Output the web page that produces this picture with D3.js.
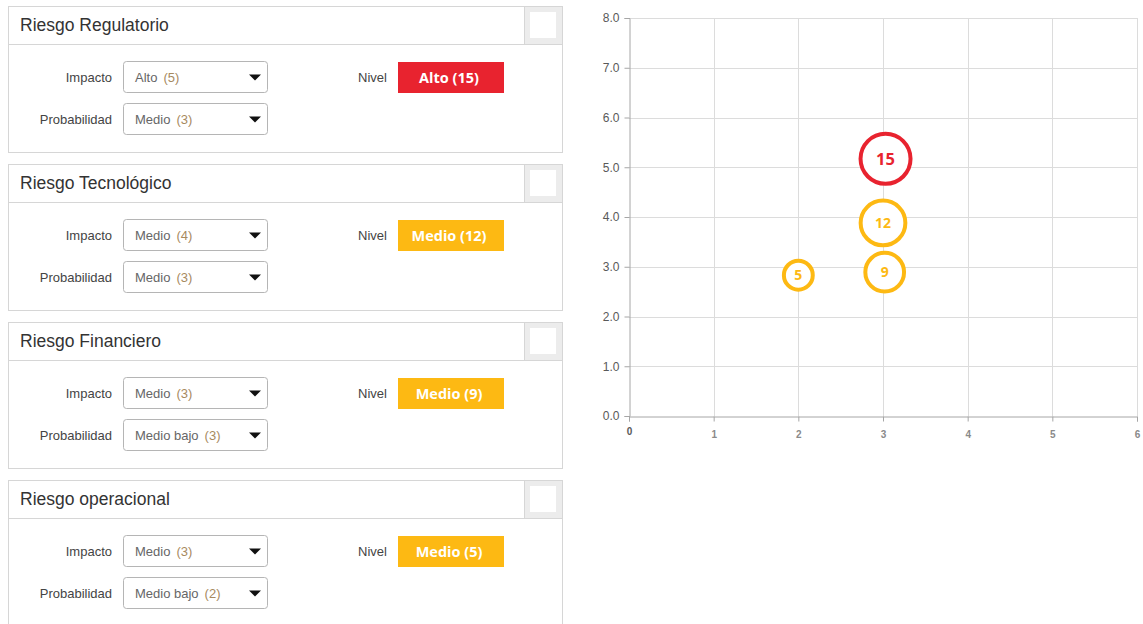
<!DOCTYPE html>
<html>
<head>
<meta charset="utf-8">
<script src="https://cdn.jsdelivr.net/npm/d3@7"></script>
<style>
  body { margin: 0; background: #fff; }
  svg { display: block; }
</style>
</head>
<body>
<script>
var width = 1143;
var height = 624;

// panel data
var riesgos = ["Riesgo Regulatorio", "Riesgo Tecnológico", "Riesgo Financiero", "Riesgo operacional"];
var impactoTxt = ["Alto", "Medio", "Medio", "Medio"];
var impactoVal = [5, 4, 3, 3];
var probTxt = ["Medio", "Medio", "Medio bajo", "Medio bajo"];
var probVal = [3, 3, 3, 2];
var nivelTxt = ["Alto", "Medio", "Medio", "Medio"];
var nivelVal = [15, 12, 9, 5];

// bubble chart data
var bubbleX = [3.03, 3.0, 3.02, 2.0];
var bubbleY = [5.17, 3.88, 2.89, 2.83];
var xTicks = [0, 1, 2, 3, 4, 5, 6];
var yTicks = [0, 1, 2, 3, 4, 5, 6, 7, 8];

var RED = "#e8232f";
var ORANGE = "#fdb913";

function colorPicker(v) {
    if (v >= 15) { return RED; }
    else { return ORANGE; }
}

var svg = d3.select("body").append("svg").attr("width", width).attr("height", height);

// ---- left side: risk panels ----
var panelLeft = 8, panelW = 554, panelH = 146, panelStep = 158, headH = 38;

var panels = svg.selectAll("g.panel").data(riesgos).enter().append("g")
    .attr("class", "panel")
    .attr("transform", function (d, i) { return "translate(0," + (6 + i * panelStep) + ")"; });

panels.append("rect")
    .attr("x", panelLeft + 0.5).attr("y", 0.5)
    .attr("width", panelW).attr("height", panelH)
    .attr("fill", "#fff").attr("stroke", "#d6d6d6");

panels.append("line")
    .attr("x1", panelLeft).attr("x2", panelLeft + panelW)
    .attr("y1", headH + 0.5).attr("y2", headH + 0.5)
    .attr("stroke", "#d6d6d6");

// little box in the header corner
panels.append("rect")
    .attr("x", 524.5).attr("y", 0.5).attr("width", 38).attr("height", headH)
    .attr("fill", "#ececec").attr("stroke", "#d6d6d6");
panels.append("rect")
    .attr("x", 530).attr("y", 6).attr("width", 26).attr("height", 26)
    .attr("fill", "#fff");

panels.append("text")
    .text(function (d) { return d; })
    .attr("x", 20).attr("y", 25)
    .attr("font-family", "Liberation Sans, Arial, sans-serif")
    .attr("font-size", 17.5).attr("fill", "#333");

function dropdown(sel, cy, label, txtArr, valArr) {
    sel.append("text")
        .text(label)
        .attr("x", 112).attr("y", cy + 4.5)
        .attr("text-anchor", "end")
        .attr("font-family", "Liberation Sans, Arial, sans-serif")
        .attr("font-size", 13).attr("fill", "#444");
    sel.append("rect")
        .attr("x", 123.5).attr("y", cy - 15.5)
        .attr("width", 144).attr("height", 31).attr("rx", 3)
        .attr("fill", "#fff").attr("stroke", "#b5b5b5");
    var t = sel.append("text")
        .attr("x", 135).attr("y", cy + 4.5)
        .attr("font-family", "Liberation Sans, Arial, sans-serif")
        .attr("font-size", 13).attr("fill", "#666");
    t.append("tspan").text(function (d, i) { return txtArr[i]; });
    t.append("tspan").attr("dx", 6).attr("fill", "#a78a5f")
        .text(function (d, i) { return "(" + valArr[i] + ")"; });
    sel.append("path")
        .attr("d", "M" + 249 + "," + (cy - 2.5) + "L" + 261 + "," + (cy - 2.5) + "L" + 255 + "," + (cy + 3.5) + "Z")
        .attr("fill", "#111");
}

dropdown(panels, 71, "Impacto", impactoTxt, impactoVal);
dropdown(panels, 113, "Probabilidad", probTxt, probVal);

panels.append("text")
    .text("Nivel")
    .attr("x", 387).attr("y", 75.5)
    .attr("text-anchor", "end")
    .attr("font-family", "Liberation Sans, Arial, sans-serif")
    .attr("font-size", 13).attr("fill", "#444");

panels.append("rect")
    .attr("x", 398).attr("y", 56)
    .attr("width", 106).attr("height", 31)
    .attr("fill", function (d, i) { return colorPicker(nivelVal[i]); });

panels.append("text")
    .text(function (d, i) { return nivelTxt[i] + " (" + nivelVal[i] + ")"; })
    .attr("x", 449).attr("y", 76.5)
    .attr("text-anchor", "middle")
    .attr("font-family", "Open Sans, sans-serif")
    .attr("font-weight", "bold")
    .attr("font-size", 14.5).attr("fill", "#fff");

// ---- right side: bubble chart ----
var x = d3.scaleLinear().domain([0, 6]).range([629, 1137]);
var y = d3.scaleLinear().domain([0, 8]).range([416, 18]);
var r = d3.scaleSqrt().domain([0, 15]).range([0, 25]);

// gridlines
svg.append("g").selectAll("line").data(yTicks.slice(1)).enter().append("line")
    .attr("x1", x(0)).attr("x2", x(6))
    .attr("y1", function (d) { return Math.round(y(d)) + 0.5; })
    .attr("y2", function (d) { return Math.round(y(d)) + 0.5; })
    .attr("stroke", "#dcdcdc");
svg.append("g").selectAll("line").data(xTicks.slice(1)).enter().append("line")
    .attr("x1", function (d) { return Math.round(x(d)) + 0.5; })
    .attr("x2", function (d) { return Math.round(x(d)) + 0.5; })
    .attr("y1", y(8)).attr("y2", y(0))
    .attr("stroke", "#dcdcdc");

var yAxis = svg.append("g")
    .attr("transform", "translate(" + (x(0) + 0.5) + ",0)")
    .call(d3.axisLeft(y).tickValues(yTicks).tickSize(5).tickPadding(5).tickFormat(d3.format(".1f")));
yAxis.selectAll("path, line").attr("stroke", "#a6a6a6");
yAxis.selectAll("text")
    .attr("font-family", "Liberation Sans, Arial, sans-serif")
    .attr("font-size", 12).attr("fill", "#595959");

var xAxis = svg.append("g")
    .attr("transform", "translate(0," + (y(0) + 0.5) + ")")
    .call(d3.axisBottom(x).tickValues(xTicks).tickSize(5).tickPadding(9).tickFormat(d3.format("d")));
xAxis.selectAll("path, line").attr("stroke", "#a6a6a6");
xAxis.selectAll("text")
    .attr("font-family", "Liberation Sans, Arial, sans-serif")
    .attr("font-weight", "bold")
    .attr("font-size", 10).attr("fill", "#8a8a8a");
xAxis.selectAll(".tick").filter(function (d) { return d === 0; }).select("text")
    .attr("fill", "#595959").attr("dy", "0.45em");

// bubbles
var bubbles = svg.selectAll("g.bubble").data(nivelVal).enter().append("g")
    .attr("class", "bubble")
    .attr("transform", function (d, i) { return "translate(" + x(bubbleX[i]) + "," + y(bubbleY[i]) + ")"; });

bubbles.append("circle")
    .attr("r", function (d) { return r(d); })
    .attr("fill", "#fff")
    .attr("stroke", function (d) { return colorPicker(d); })
    .attr("stroke-width", 4);

bubbles.append("text")
    .text(function (d) { return d; })
    .attr("text-anchor", "middle")
    .attr("dy", "0.36em")
    .attr("font-family", "Open Sans, sans-serif")
    .attr("font-weight", "bold")
    .attr("font-size", function (d) { return d >= 15 ? 16.5 : 14; })
    .attr("fill", function (d) { return colorPicker(d); });
</script>
</body>
</html>
